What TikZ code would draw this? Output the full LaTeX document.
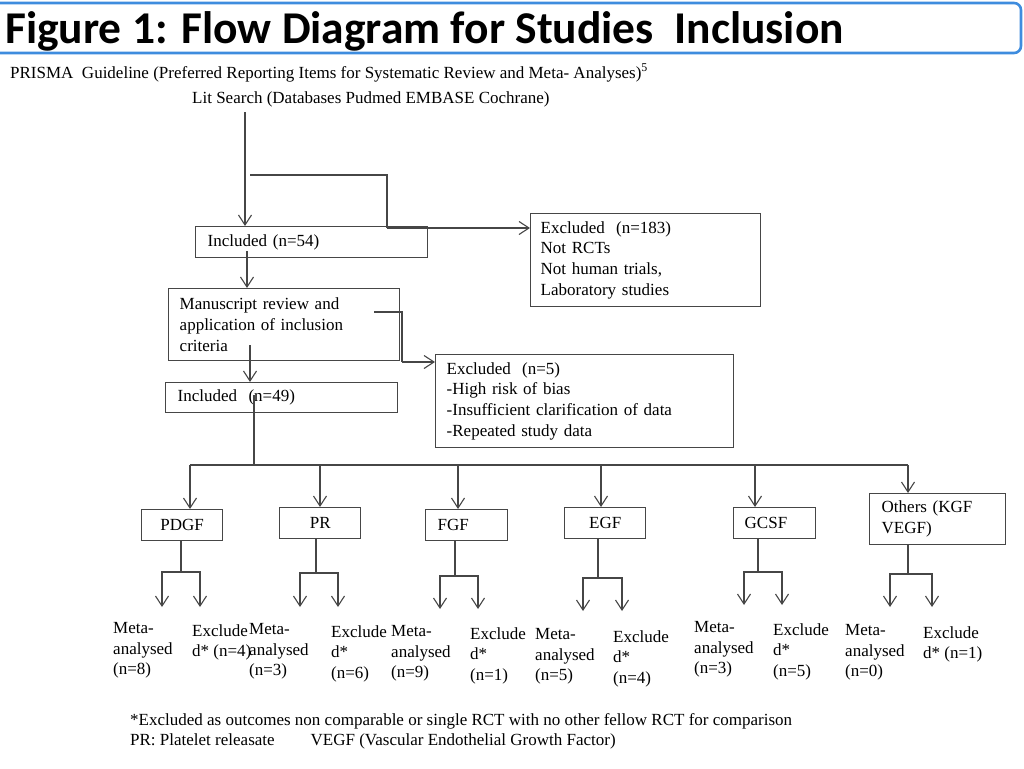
\documentclass[tikz,border=0pt]{standalone}
\usepackage{fontspec}
\setmainfont{Liberation Serif}
\newfontfamily\titlefont{Carlito}
\usetikzlibrary{arrows.meta}
\definecolor{titleblue}{RGB}{62,140,222}
\definecolor{linegray}{RGB}{70,70,70}
\begin{document}
\fontsize{17}{20.7}\selectfont
\begin{tikzpicture}[x=1pt,y=-1pt,
  line/.style={draw=linegray,line width=1.3pt},
  arr/.style={line,-{Straight Barb[length=10pt,width=13pt,line width=1.1pt]}},
  box/.style={draw=linegray,line width=1.4pt,anchor=north west,inner sep=0pt,align=left},
  cat/.style={box,align=center,minimum width=81pt,minimum height=31pt},
  res/.style={anchor=north west,inner sep=0pt,align=left}]
\useasboundingbox (0,0) rectangle (1024,768);
\draw[titleblue,line width=2.6pt,rounded corners=7pt] (-12,3) rectangle (1021,53);
\node[anchor=west,inner sep=0pt] (title) at (5,31)
  {\titlefont\bfseries\fontsize{45.5}{50}\selectfont Figure 1: Flow Diagram for Studies~~Inclusion};
\node[anchor=base west,inner sep=0pt] (prisma) at (10,78)
  {PRISMA~~Guideline (Preferred Reporting Items for Systematic Review and Meta- Analyses)\textsuperscript{5}};
\node[anchor=base west,inner sep=0pt] (lit) at (192,103)
  {Lit Search (Databases Pudmed EMBASE Cochrane)};
\node[box,minimum width=232pt,minimum height=31pt,text width=208pt] (inc1) at (195,226) {Included (n=54)};
\node[box,minimum width=230pt,minimum height=93pt,text width=210pt] (exc1) at (530,213)
  {Excluded~~(n=183)\\Not RCTs\\Not human trials,\\Laboratory studies};
\node[box,minimum width=231pt,minimum height=72pt,text width=209pt] (ms) at (168,288)
  {Manuscript review and\\application of inclusion\\criteria};
\node[box,minimum width=298pt,minimum height=93pt,text width=276pt] (exc2) at (435,354)
  {Excluded~~(n=5)\\-High risk of bias\\-Insufficient clarification of data\\-Repeated study data};
\node[box,minimum width=232pt,minimum height=30pt,text width=208pt] (inc2) at (165,382) {Included~~(n=49)};
\node[cat] (pdgf) at (141,509) {PDGF};
\node[cat] (pr) at (279,507) {PR};
\node[cat,align=left,minimum width=82pt,text width=58pt] (fgf) at (425,509) {FGF};
\node[cat] (egf) at (564,507) {EGF};
\node[cat,align=left,minimum width=82pt,text width=60pt] (gcsf) at (733,507) {GCSF};
\node[box,minimum width=136pt,minimum height=51pt,text width=112pt] (oth) at (869,493) {Others (KGF\\VEGF)};
\node[res] (pdgf-m) at (113,622) {Meta-\\analysed\\(n=8)};
\node[res] (pdgf-x) at (192,624) {Exclude\\d* (n=4)};
\node[res] (pr-m) at (249,623) {Meta-\\analysed\\(n=3)};
\node[res] (pr-x) at (331,625) {Exclude\\d*\\(n=6)};
\node[res] (fgf-m) at (391,625) {Meta-\\analysed\\(n=9)};
\node[res] (fgf-x) at (470,627) {Exclude\\d*\\(n=1)};
\node[res] (egf-m) at (535,628) {Meta-\\analysed\\(n=5)};
\node[res] (egf-x) at (613,630) {Exclude\\d*\\(n=4)};
\node[res] (gcsf-m) at (694,621) {Meta-\\analysed\\(n=3)};
\node[res] (gcsf-x) at (773,623) {Exclude\\d*\\(n=5)};
\node[res] (oth-m) at (845,624) {Meta-\\analysed\\(n=0)};
\node[res] (oth-x) at (923,626) {Exclude\\d* (n=1)};
\node[res] (note) at (130,713)
  {*Excluded as outcomes non comparable or single RCT with no other fellow RCT for comparison\\
   PR: Platelet releasate\hspace*{36pt}VEGF (Vascular Endothelial Growth Factor)};
\coordinate (top) at (245,112);
\coordinate (c0) at (250,175);
\coordinate (k0) at (387,228);
\coordinate (s1) at (247,251);
\coordinate (c1) at (374,312);
\coordinate (k1) at (402,362);
\coordinate (s2) at (250,345);
\coordinate (s3) at (254,395);
\coordinate (split) at (254,465);
\draw[arr] (top) -- (top |- inc1.north);
\draw[line] (c0) -| (k0);
\draw[arr] (k0) -- (k0 -| exc1.west);
\draw[arr] (s1) -- (s1 |- ms.north);
\draw[line] (c1) -| (k1);
\draw[arr] (k1) -- (k1 -| exc2.west);
\draw[arr] (s2) -- (s2 |- inc2.north);
\draw[line] (s3) -- (split);
\coordinate (sl) at (190,465);
\coordinate (sr) at (908,465);
\draw[line] (sl) -- (sr);
\foreach \nm/\ax/\bx/\by/\bl/\br/\ey in
  {pdgf/190/181/572/162/200/607, pr/320/316/573/300/338/607,
   fgf/458/455/576/440/478/609, egf/601/598/578/583/622/611,
   gcsf/755/758/572/744/782/605, oth/908/908/574/890/932/607}{
  \coordinate (\nm-a) at (\ax,465);
  \coordinate (\nm-b) at (\bx,\by);
  \coordinate (\nm-l) at (\bl,\ey);
  \coordinate (\nm-r) at (\br,\ey);
  \draw[arr] (\nm-a) -- (\nm-a |- \nm.north);
  \draw[line] (\nm.south -| \nm-b) -- (\nm-b);
  \draw[arr] (\nm-b) -| (\nm-l);
  \draw[arr] (\nm-b) -| (\nm-r);
}
\end{tikzpicture}
\end{document}
